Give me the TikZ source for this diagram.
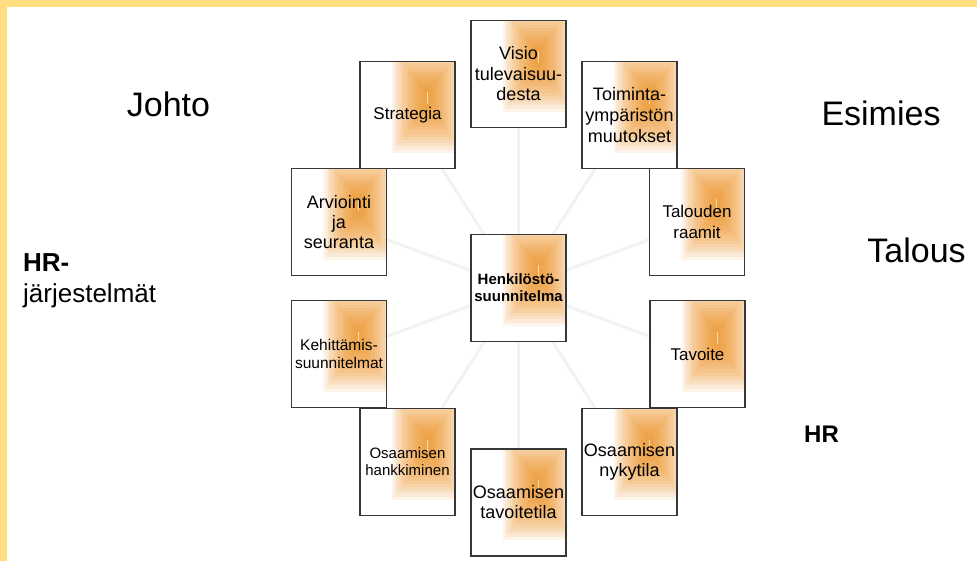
\documentclass[tikz,border=0pt]{standalone}
\usepackage{fontspec}
\setmainfont{Liberation Sans}
\usetikzlibrary{backgrounds}

\definecolor{framecol}{RGB}{255,222,128}
\definecolor{glowcol}{RGB}{238,136,14}
\definecolor{spokecol}{RGB}{242,242,242}
\definecolor{edgecol}{RGB}{55,55,55}

\newcommand{\fs}[2]{\fontsize{#1}{#2}\selectfont}

\tikzset{
  card/.style={draw=edgecol, line width=1.2pt, fill=white,
    minimum width=95pt, minimum height=107pt, inner sep=0pt, align=center,
    path picture={
      \foreach \k [evaluate=\k as \xl using -28-(3+2.3*\k),
                   evaluate=\k as \xr using -28+(3+2.3*\k),
                   evaluate=\k as \yt using -36+(9+2.8*\k),
                   evaluate=\k as \yb using -36-1.15*(9+2.8*\k)] in {0,...,14}
        \fill[glowcol, opacity=0.085]
          ([xshift=\xl pt, yshift=\yt pt]path picture bounding box.north east) rectangle
          ([xshift=\xr pt, yshift=\yb pt]path picture bounding box.north east);
      \draw[white, opacity=0.6, line width=0.7pt]
        ([xshift=-28pt, yshift=-31pt]path picture bounding box.north east) --
        ([xshift=-28pt, yshift=-43pt]path picture bounding box.north east);
    }},
  side/.style={inner sep=0pt, anchor=base},
  spoke/.style={spokecol, line width=3pt}
}

\begin{document}
\begin{tikzpicture}[x=1pt, y=-1pt]
  \useasboundingbox (0,0) rectangle (977,561);

  % Frame
  \fill[framecol] (0,0) rectangle (977,7);
  \fill[framecol] (0,0) rectangle (7,561);

  % Boxes
  \node[card, font=\fs{15}{17}\bfseries] (hr) at (518.5,288) {Henkilöstö-\\suunnitelma};
  \node[card, font=\fs{18}{20.5}] (visio) at (518.5,74) {Visio\\tulevaisuu-\\desta};
  \node[card, font=\fs{17}{20}] (strategia) at (407.5,115) {Strategia};
  \node[card, font=\fs{18}{21}] (ymparisto) at (629.5,115) {Toiminta-\\ympäristön\\muutokset};
  \node[card, font=\fs{18}{20}] (arviointi) at (339,222) {Arviointi\\ja\\seuranta};
  \node[card, font=\fs{17}{20.5}] (talous) at (697,222) {Talouden\\raamit};
  \node[card, font=\fs{15.5}{17.5}] (kehitys) at (339,354) {Kehittämis-\\suunnitelmat};
  \node[card, font=\fs{17}{20}] (tavoite) at (697.5,354) {Tavoite};
  \node[card, font=\fs{15}{17}] (hankinta) at (407.5,462) {Osaamisen\\hankkiminen};
  \node[card, font=\fs{18}{20}] (nykytila) at (629.5,462) {Osaamisen\\nykytila};
  \node[card, font=\fs{18}{20}] (tavoitetila) at (518.5,502.5) {Osaamisen\\tavoitetila};

  % Spokes
  \begin{scope}[on background layer]
    \foreach \n in {visio,strategia,ymparisto,arviointi,talous,kehitys,tavoite,hankinta,nykytila,tavoitetila}
      \draw[spoke] (hr) -- (\n);
  \end{scope}

  % Labels
  \node[side, font=\fs{34}{40}] (johto) at (168.5,116.7) {Johto};
  \node[side, font=\fs{34}{40}] (esimies) at (881,125.7) {Esimies};
  \node[side, font=\fs{34}{40}] (taloustxt) at (916.5,262.7) {Talous};
  \node[side, anchor=base west, font=\fs{26}{30}\bfseries] (hrjarj) at (23,271.7) {HR-};
  \node[side, anchor=base west, font=\fs{26}{30}] (jarj) at (23,303) {järjestelmät};
  \node[side, font=\fs{24}{28}\bfseries] (hrtxt) at (821.5,442) {HR};
\end{tikzpicture}
\end{document}
